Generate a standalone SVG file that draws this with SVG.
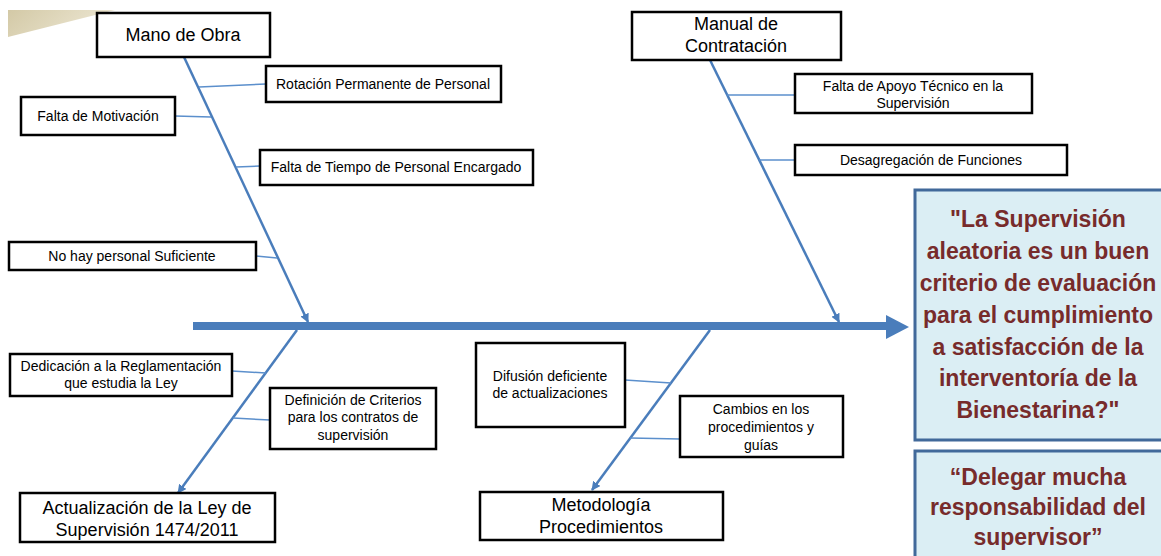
<svg xmlns="http://www.w3.org/2000/svg" width="1161" height="556" viewBox="0 0 1161 556">
<style>
.box{fill:#fff;stroke:#000;stroke-width:2.5}
.t{font-family:"Liberation Sans",Arial,sans-serif;font-size:14px;fill:#000;text-anchor:middle}
.tl{font-family:"Liberation Sans",Arial,sans-serif;font-size:18px;fill:#000;text-anchor:middle}
.branch{stroke:#4a7dbb;stroke-width:2.5;fill:none}
.tick{stroke:#5b8fcc;stroke-width:1.5;fill:none}
.eff{fill:#dbeef4;stroke:#41699a;stroke-width:3}
.et{font-family:"Liberation Sans",Arial,sans-serif;font-size:23px;font-weight:bold;fill:#772b2b;text-anchor:middle}
</style>
<defs>
<linearGradient id="beige" x1="0" y1="0" x2="1" y2="0.3">
<stop offset="0" stop-color="#d3c9a6"/>
<stop offset="1" stop-color="#ece6d2"/>
</linearGradient>
<marker id="ah" viewBox="0 0 10 10" refX="9" refY="5" markerWidth="9" markerHeight="9" markerUnits="userSpaceOnUse" orient="auto">
<path d="M0,0 L10,5 L0,10 z" fill="#4a7dbb"/>
</marker>
</defs>
<rect width="1161" height="556" fill="#fff"/>
<polygon points="8,10 115,10 8,37" fill="url(#beige)"/>

<g id="connectors">
<line x1="193" y1="326" x2="888" y2="326" stroke="#4a7dbb" stroke-width="8"/>
<polygon points="886,315 909,327 886,339" fill="#4a7dbb"/>
<line class="branch" x1="184" y1="57" x2="308" y2="322" marker-end="url(#ah)"/>
<line class="branch" x1="710" y1="60" x2="839" y2="322" marker-end="url(#ah)"/>
<line class="branch" x1="297" y1="330" x2="178" y2="493" marker-end="url(#ah)"/>
<line class="branch" x1="710" y1="330" x2="592" y2="490" marker-end="url(#ah)"/>
<line class="tick" x1="199" y1="87" x2="266" y2="84"/>
<line class="tick" x1="175" y1="116" x2="211" y2="117"/>
<line class="tick" x1="236" y1="167" x2="260" y2="166"/>
<line class="tick" x1="256" y1="256" x2="277" y2="258"/>
<line class="tick" x1="727" y1="95" x2="795" y2="95"/>
<line class="tick" x1="759" y1="160" x2="795" y2="160"/>
<line class="tick" x1="232" y1="371" x2="266" y2="373"/>
<line class="tick" x1="233" y1="418" x2="270" y2="420"/>
<line class="tick" x1="625" y1="380" x2="671" y2="383"/>
<line class="tick" x1="630" y1="438" x2="680" y2="439"/>
</g>

<g id="mano-de-obra">
<rect class="box" x="97" y="13" width="173" height="44"/>
<text class="tl" x="183" y="41">Mano de Obra</text>
</g>
<g id="rotacion">
<rect class="box" x="266" y="66" width="235" height="36"/>
<text class="t" x="383" y="89">Rotación Permanente de Personal</text>
</g>
<g id="falta-motivacion">
<rect class="box" x="21" y="97" width="154" height="38"/>
<text class="t" x="98" y="121">Falta de Motivación</text>
</g>
<g id="falta-tiempo">
<rect class="box" x="260" y="150" width="273" height="35"/>
<text class="t" x="396" y="172">Falta de Tiempo de Personal Encargado</text>
</g>
<g id="no-hay-personal">
<rect class="box" x="9" y="242" width="247" height="28"/>
<text class="t" x="132" y="261">No hay personal Suficiente</text>
</g>

<g id="manual-contratacion">
<rect class="box" x="632" y="12" width="209" height="48"/>
<text class="tl" x="736" y="30">Manual de</text>
<text class="tl" x="736" y="52">Contratación</text>
</g>
<g id="falta-apoyo">
<rect class="box" x="795" y="74" width="237" height="39"/>
<text class="t" x="913" y="91">Falta de Apoyo Técnico en la</text>
<text class="t" x="913" y="108">Supervisión</text>
</g>
<g id="desagregacion">
<rect class="box" x="795" y="145" width="272" height="30"/>
<text class="t" x="931" y="165">Desagregación de Funciones</text>
</g>

<g id="dedicacion">
<rect class="box" x="10" y="354" width="222" height="42"/>
<text class="t" x="121" y="371">Dedicación a la Reglamentación</text>
<text class="t" x="121" y="388">que estudia la Ley</text>
</g>
<g id="definicion">
<rect class="box" x="270" y="388" width="166" height="61"/>
<text class="t" x="353" y="405">Definición de Criterios</text>
<text class="t" x="353" y="422">para los contratos de</text>
<text class="t" x="353" y="440">supervisión</text>
</g>
<g id="actualizacion">
<rect class="box" x="20" y="493" width="255" height="49"/>
<text class="tl" x="147" y="514">Actualización de la Ley de</text>
<text class="tl" x="147" y="536">Supervisión 1474/2011</text>
</g>

<g id="difusion">
<rect class="box" x="476" y="343" width="149" height="84"/>
<text class="t" x="550" y="381">Difusión deficiente</text>
<text class="t" x="550" y="398">de actualizaciones</text>
</g>
<g id="cambios">
<rect class="box" x="680" y="396" width="163" height="61"/>
<text class="t" x="761" y="414">Cambios en los</text>
<text class="t" x="761" y="432">procedimientos y</text>
<text class="t" x="761" y="450">guías</text>
</g>
<g id="metodologia">
<rect class="box" x="480" y="492" width="243" height="48"/>
<text class="tl" x="601" y="511">Metodología</text>
<text class="tl" x="601" y="533">Procedimientos</text>
</g>

<g id="efecto">
<rect class="eff" x="915" y="190" width="250" height="250"/>
<text class="et" x="1038" y="227">"La Supervisión</text>
<text class="et" x="1038" y="259">aleatoria es un buen</text>
<text class="et" x="1038" y="291">criterio de evaluación</text>
<text class="et" x="1038" y="323">para el cumplimiento</text>
<text class="et" x="1038" y="355">a satisfacción de la</text>
<text class="et" x="1038" y="386">interventoría de la</text>
<text class="et" x="1038" y="418">Bienestarina?"</text>
</g>
<g id="delegar">
<rect class="eff" x="915" y="451" width="250" height="110"/>
<text class="et" x="1038" y="485">“Delegar mucha</text>
<text class="et" x="1038" y="515">responsabilidad del</text>
<text class="et" x="1038" y="545">supervisor”</text>
</g>
</svg>
